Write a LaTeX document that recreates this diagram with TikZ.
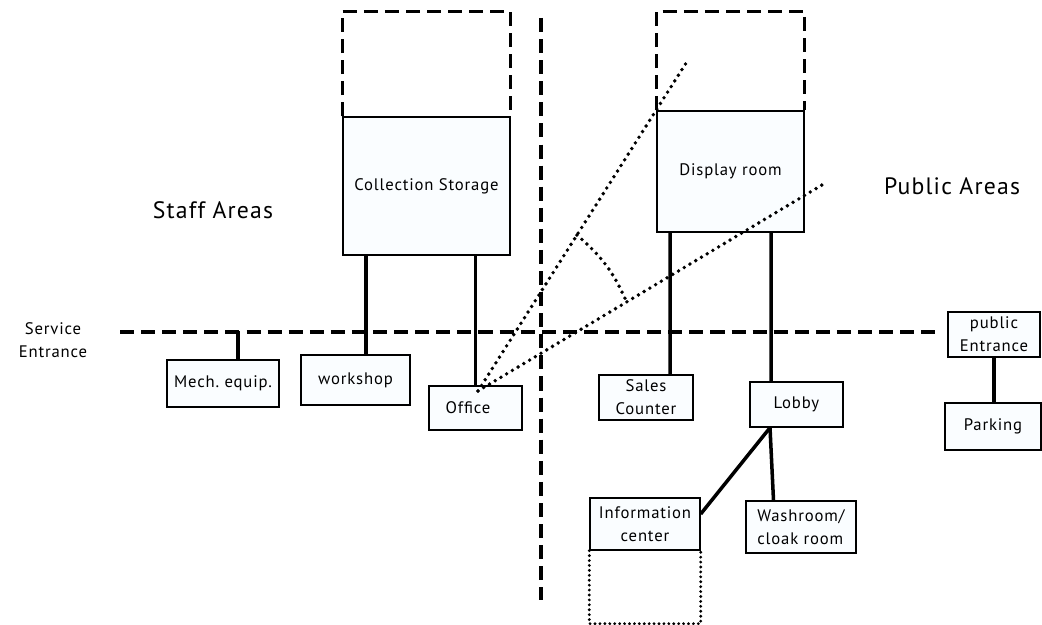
\documentclass[tikz,border=0pt]{standalone}
\usepackage{fontspec}
\setmainfont{PT Sans}[LetterSpace=5]
\usetikzlibrary{calc}
\definecolor{roomfill}{RGB}{250,253,255}
\tikzset{
  room/.style={draw, line width=0.8pt, fill=roomfill, inner sep=2pt, align=center, font=\fontsize{9.5}{13}\selectfont},
  link/.style={line width=2pt},
  zone/.style={line width=2.3pt, dash pattern=on 8pt off 4pt},
  future/.style={line width=1.8pt, dash pattern=on 8pt off 4pt},
  view/.style={line width=2.2pt, line cap=round, dash pattern=on 0pt off 3.8pt},
  area/.style={font=\fontsize{13.5}{15}\selectfont}
}
\begin{document}
\begin{tikzpicture}
\useasboundingbox (0,0) rectangle (20.84,12.5);
% zone boundaries
\coordinate (se) at (2.4,5.86);
\coordinate (pb) at (18.8,5.86);
\coordinate (vt) at (10.82,12.14);
\coordinate (vb) at (10.82,0.5);
\draw[zone] (se) -- (pb);
\draw[zone] (vt) -- (vb);

\node[align=center, font=\fontsize{9.5}{13}\selectfont] (svc) at (1.06,5.7) {Service\\Entrance};
\node[area] (staff) at (4.26,8.3) {Staff Areas};
\node[area] (public) at (19.04,8.78) {Public Areas};

% rooms
\node[room, minimum width=3.34cm, minimum height=2.76cm] (cs) at (8.53,8.78) {Collection Storage};
\node[room, minimum width=2.94cm, minimum height=2.42cm] (dr) at (14.61,9.07) {Display room};
\node[room, minimum width=2.24cm, minimum height=0.94cm] (me) at (4.46,4.83) {Mech.\ equip.};
\node[room, minimum width=2.18cm, minimum height=1.0cm] (ws) at (7.11,4.9) {workshop};
\node[room, minimum width=1.86cm, minimum height=0.88cm] (of) at (9.51,4.34) {Office\hspace{3mm}};
\node[room, minimum width=1.88cm, minimum height=0.9cm] (sc) at (12.92,4.55) {Sales\\Counter};
\node[room, minimum width=1.86cm, minimum height=0.9cm] (lb) at (15.93,4.41) {Lobby};
\node[room, minimum width=2.2cm, minimum height=1.04cm] (ic) at (12.9,2.02) {Information\\center};
\node[room, minimum width=2.2cm, minimum height=1.04cm, align=left] (wr) at (16.02,1.96) {Washroom/\\cloak room};
\node[room, minimum width=1.84cm, minimum height=0.9cm] (pe) at (19.88,5.81) {public\\Entrance};
\node[room, minimum width=1.92cm, minimum height=0.94cm] (pk) at (19.86,3.97) {Parking};

% expansion
\draw[future] (cs.north west) -- ++(0,2.1) -| (cs.north east);
\draw[future] (dr.north west) -- ++(0,1.98) -| (dr.north east);
\draw[view, line width=1.8pt, dash pattern=on 0pt off 2.8pt] (ic.south west) -- ++(0,-1.46) -| (ic.south east);

% connections
\draw[link] ([xshift=3mm]me.north) -- ++(0,0.56);
\draw[link] ([xshift=-12.1mm]cs.south) -- ([xshift=2.1mm]ws.north);
\draw[link] (cs.south -| of.north) -- (of.north);
\draw[link] ([xshift=-12.1mm]dr.south) -- ([xshift=4.8mm]sc.north);
\draw[link] ([xshift=8.1mm]dr.south) -- ([xshift=-5.1mm]lb.north);
\draw[link] ([xshift=-5.3mm]lb.south) -- ([yshift=2mm]ic.east);
\draw[link] ([xshift=-5.3mm]lb.south) -- ([xshift=-5.5mm]wr.north);
\draw[link] (pe.south) -- (pe.south |- pk.north);

% view from office
\coordinate (eye) at (9.56,4.68);
\coordinate (v1) at (13.76,11.3);
\coordinate (v2) at (16.44,8.8);
\coordinate (a1) at ($(eye)!0.471!(v1)$);
\coordinate (a2) at ($(eye)!0.432!(v2)$);
\draw[view] (eye) -- (v1);
\draw[view] (eye) -- (v2);
\draw[view] (a1) to[bend left=13] (a2);
\end{tikzpicture}
\end{document}
